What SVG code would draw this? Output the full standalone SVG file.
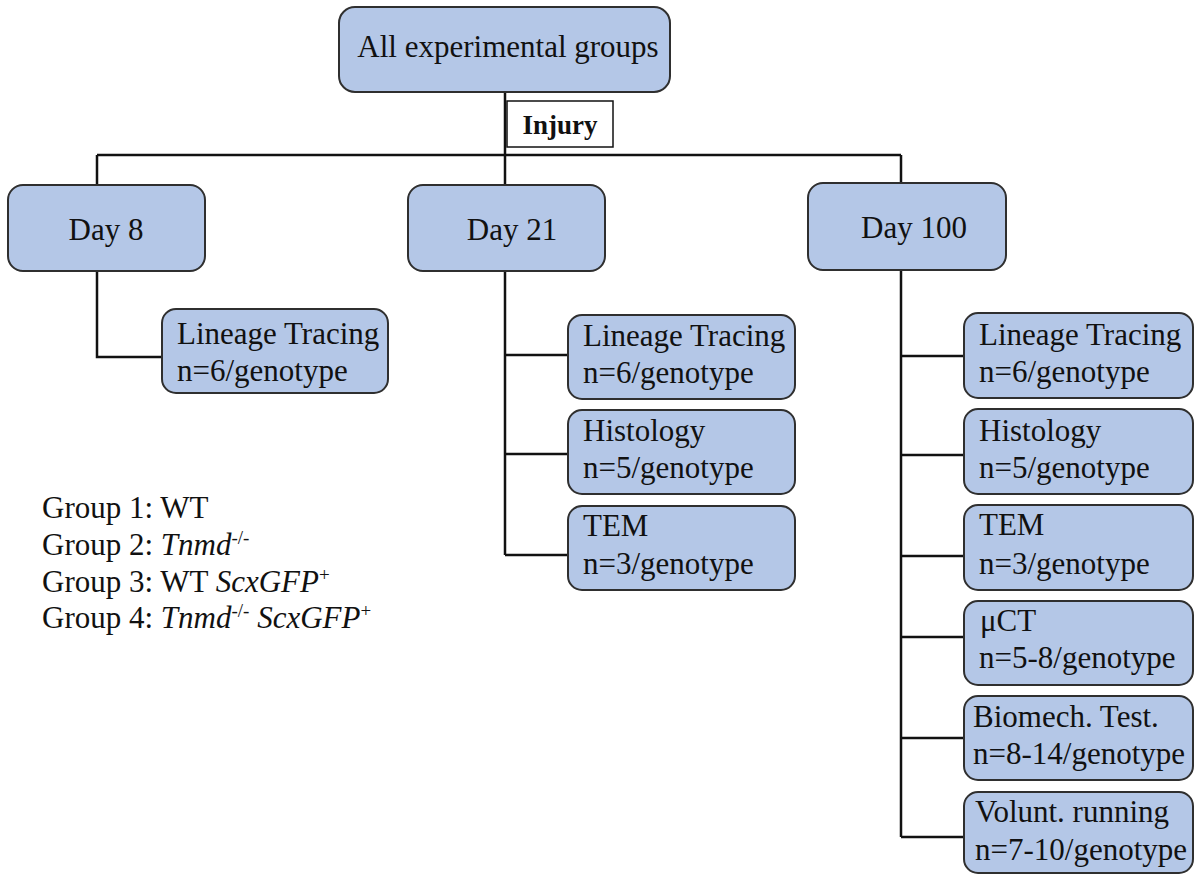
<svg xmlns="http://www.w3.org/2000/svg" width="1198" height="874" viewBox="0 0 1198 874">
<style>
.box{fill:#b4c7e7;stroke:#2f2f2f;stroke-width:2}
.t{font-family:"Liberation Serif","Times New Roman",serif;font-size:31px;fill:#111}
.c{text-anchor:middle}
.ln{stroke:#111;stroke-width:2.5;fill:none}
.sup{font-size:19px}
</style>
<rect width="1198" height="874" fill="#ffffff"/>
<g id="connectors">
<path class="ln" d="M505 92V185M97 155H901M97 155V185M901 155V183"/>
<path class="ln" d="M97 271V357H162"/>
<path class="ln" d="M505 271V555M505 355H568M505 454H568M505 555H568"/>
<path class="ln" d="M901 270V837M901 356H964M901 455H964M901 556H964M901 637H964M901 738H964M901 837H964"/>
</g>
<g id="all-groups">
<rect class="box" x="339" y="7" width="331" height="85" rx="16"/>
<text class="t c" x="508" y="57">All experimental groups</text>
</g>
<g id="injury">
<rect x="507" y="101" width="106" height="46" fill="#ffffff" stroke="#111" stroke-width="1.5"/>
<text class="t c" x="560" y="134" style="font-weight:bold;font-size:27px">Injury</text>
</g>
<g id="day8">
<rect class="box" x="8" y="185" width="197" height="86" rx="15"/>
<text class="t c" x="106" y="240">Day 8</text>
</g>
<g id="day21">
<rect class="box" x="408" y="185" width="197" height="86" rx="15"/>
<text class="t c" x="512" y="240">Day 21</text>
</g>
<g id="day100">
<rect class="box" x="808" y="183" width="198" height="87" rx="15"/>
<text class="t c" x="914" y="238">Day 100</text>
</g>
<g id="d8-lineage">
<rect class="box" x="162" y="309" width="226" height="84" rx="14"/>
<text class="t" x="177" y="344">Lineage Tracing</text>
<text class="t" x="177" y="381">n=6/genotype</text>
</g>
<g id="d21-lineage">
<rect class="box" x="568" y="315" width="227" height="84" rx="14"/>
<text class="t" x="583" y="346">Lineage Tracing</text>
<text class="t" x="583" y="383">n=6/genotype</text>
</g>
<g id="d21-histology">
<rect class="box" x="568" y="410" width="227" height="84" rx="14"/>
<text class="t" x="583" y="441">Histology</text>
<text class="t" x="583" y="478">n=5/genotype</text>
</g>
<g id="d21-tem">
<rect class="box" x="568" y="506" width="227" height="84" rx="14"/>
<text class="t" x="583" y="536">TEM</text>
<text class="t" x="583" y="574">n=3/genotype</text>
</g>
<g id="d100-lineage">
<rect class="box" x="964" y="313" width="229" height="85" rx="14"/>
<text class="t" x="979" y="345">Lineage Tracing</text>
<text class="t" x="979" y="382">n=6/genotype</text>
</g>
<g id="d100-histology">
<rect class="box" x="964" y="409" width="229" height="85" rx="14"/>
<text class="t" x="979" y="441">Histology</text>
<text class="t" x="979" y="478">n=5/genotype</text>
</g>
<g id="d100-tem">
<rect class="box" x="964" y="505" width="229" height="85" rx="14"/>
<text class="t" x="979" y="535">TEM</text>
<text class="t" x="979" y="574">n=3/genotype</text>
</g>
<g id="d100-uct">
<rect class="box" x="964" y="601" width="229" height="84" rx="14"/>
<text class="t" x="980" y="631">μCT</text>
<text class="t" x="979" y="668">n=5-8/genotype</text>
</g>
<g id="d100-biomech">
<rect class="box" x="964" y="696" width="229" height="84" rx="14"/>
<text class="t" x="973" y="727">Biomech. Test.</text>
<text class="t" x="973" y="764">n=8-14/genotype</text>
</g>
<g id="d100-running">
<rect class="box" x="964" y="792" width="229" height="81" rx="14"/>
<text class="t" x="975" y="822">Volunt. running</text>
<text class="t" x="975" y="860">n=7-10/genotype</text>
</g>
<g id="legend">
<text class="t" x="42" y="518">Group 1: WT</text>
<text class="t" x="42" y="555">Group 2: <tspan font-style="italic">Tnmd</tspan><tspan class="sup" dy="-11">-/-</tspan></text>
<text class="t" x="42" y="592">Group 3: WT <tspan font-style="italic">ScxGFP</tspan><tspan class="sup" dy="-11">+</tspan></text>
<text class="t" x="42" y="628">Group 4: <tspan font-style="italic">Tnmd</tspan><tspan class="sup" dy="-11">-/-</tspan><tspan dy="11"> </tspan><tspan font-style="italic">ScxGFP</tspan><tspan class="sup" dy="-11">+</tspan></text>
</g>
</svg>
